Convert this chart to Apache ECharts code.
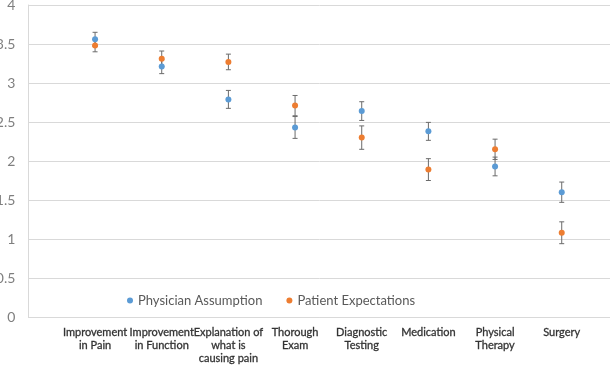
<!DOCTYPE html>
<html><head><meta charset="utf-8">
<script src="https://cdn.jsdelivr.net/npm/echarts@6/dist/echarts.min.js"></script>
<style>html,body{margin:0;padding:0;background:#fff}#c{width:610px;height:365px}</style>
</head><body><div id="c"></div>
<script>
var categories = ['', 'Improvement\nin Pain', 'Improvement\nin Function', 'Explanation of\nwhat is\ncausing pain', 'Thorough\nExam', 'Diagnostic\nTesting', 'Medication', 'Physical\nTherapy', 'Surgery', ''];
var physicianMean = [null, 3.56, 3.21, 2.79, 2.43, 2.64, 2.38, 1.93, 1.60, null];
var physicianErr  = [null, 0.09, 0.09, 0.115, 0.14, 0.12, 0.115, 0.12, 0.13, null];
var patientMean   = [null, 3.48, 3.31, 3.27, 2.71, 2.30, 1.89, 2.15, 1.08, null];
var patientErr    = [null, 0.08, 0.10, 0.10, 0.13, 0.15, 0.14, 0.13, 0.14, null];
var yTicks = [0, 0.5, 1, 1.5, 2, 2.5, 3, 3.5, 4];

function errData(m, e) {
  var out = [];
  for (var i = 0; i < m.length; i++) if (m[i] != null) out.push([i, m[i] - e[i], m[i] + e[i]]);
  return out;
}
function errSeries(m, e) {
  return {
    type: 'custom', silent: true, z: 1,
    data: errData(m, e),
    renderItem: function (params, api) {
      var x = api.value(0);
      var lo = api.coord([x, api.value(1)]);
      var hi = api.coord([x, api.value(2)]);
      var w = 2.5;
      var st = { stroke: '#6b6b6b', lineWidth: 1 };
      return { type: 'group', children: [
        { type: 'line', shape: { x1: lo[0], y1: lo[1], x2: hi[0], y2: hi[1] }, style: st },
        { type: 'line', shape: { x1: lo[0] - w, y1: lo[1], x2: lo[0] + w, y2: lo[1] }, style: st },
        { type: 'line', shape: { x1: hi[0] - w, y1: hi[1], x2: hi[0] + w, y2: hi[1] }, style: st }
      ]};
    }
  };
}

var chart = echarts.init(document.getElementById('c'));
chart.setOption({
  animation: false,
  textStyle: { fontFamily: 'Lato' },
  grid: { left: 28.4, right: -18.4, top: 5, bottom: 48, containLabel: false, outerBoundsMode: 'none' },
  legend: {
    left: 122, top: 289, itemWidth: 6, itemHeight: 6, itemGap: 24, icon: 'circle',
    textStyle: { fontSize: 13, color: '#595959', fontFamily: 'Lato' },
    data: ['Physician Assumption', 'Patient Expectations']
  },
  xAxis: {
    type: 'category', data: categories, boundaryGap: false,
    axisLine: { show: true, lineStyle: { color: '#d9d9d9' } },
    axisTick: { show: false },
    splitLine: { show: false },
    axisLabel: { interval: 0, color: '#333333', fontSize: 11, fontWeight: 'normal', lineHeight: 13, margin: 9, fontFamily: 'Lato',
      textBorderColor: '#333333', textBorderWidth: 0.3 }
  },
  yAxis: {
    type: 'value', min: yTicks[0], max: yTicks[yTicks.length - 1], interval: 0.5,
    axisLine: { show: true, lineStyle: { color: '#d9d9d9' } },
    axisTick: { show: false },
    splitLine: { lineStyle: { color: '#d9d9d9' } },
    axisLabel: { color: '#7f7f7f', fontSize: 14, margin: 13 }
  },
  series: [
    errSeries(physicianMean, physicianErr),
    errSeries(patientMean, patientErr),
    { name: 'Physician Assumption', type: 'scatter', data: physicianMean, symbolSize: 6, z: 3,
      itemStyle: { color: '#5b9bd5', opacity: 1 } },
    { name: 'Patient Expectations', type: 'scatter', data: patientMean, symbolSize: 6, z: 3,
      itemStyle: { color: '#ed7d31', opacity: 1 } }
  ]
});
</script></body></html>
